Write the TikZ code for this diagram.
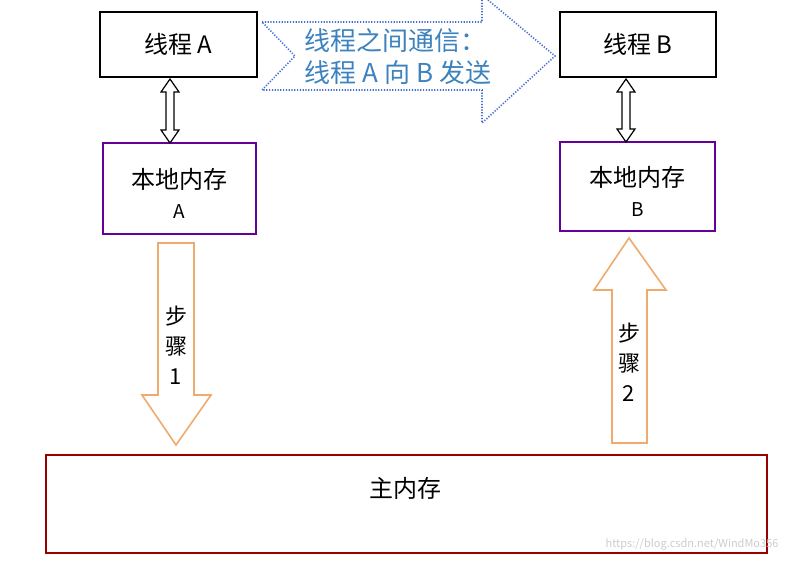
\documentclass[tikz,border=0pt]{standalone}
\usepackage{fontspec}
\setmainfont{Noto Sans CJK SC}
\definecolor{peach}{RGB}{240,170,110}
\definecolor{commblue}{RGB}{60,130,190}
\definecolor{dotblue}{RGB}{70,110,210}
\begin{document}
\begin{tikzpicture}[x=1pt,y=-1pt,
  box/.style={draw,line width=1.8pt,minimum height=0,inner sep=0},
  txt/.style={font=\fontsize{24}{28}\selectfont},
  dbl/.style={draw,line width=1.2pt,fill=white},
  oarr/.style={draw=peach,line width=1.6pt,fill=white}]
\useasboundingbox (0,0) rectangle (787,566);
% boxes
\node[box,draw=black,minimum width=157pt,minimum height=65pt] (ta) at (178.5,44.5) {};
\node[txt] (tat) at (ta.center) {线程 A};
\node[box,draw=black,minimum width=156pt,minimum height=65pt] (tb) at (638,44.5) {};
\node[txt] (tbt) at (tb.center) {线程 B};
\node[box,draw=violet!80!blue,minimum width=153pt,minimum height=91pt] (la) at (179.5,188.5) {};
\node[txt,align=center] (lat) at (179.5,193) {本地内存\\[2pt]\fontsize{19}{20}\selectfont A};
\node[box,draw=violet!80!blue,minimum width=155pt,minimum height=89pt] (lb) at (637.5,186.5) {};
\node[txt,align=center] (lbt) at (637.5,191) {本地内存\\[2pt]\fontsize{19}{20}\selectfont B};
\node[box,draw=red!60!black,minimum width=721pt,minimum height=98pt] (mm) at (406.5,504) {};
\node[txt] (mmt) at (405,488) {主内存};
% dotted notched arrow
\draw[dotblue,line width=1.6pt,dash pattern=on 1.2pt off 1.6pt]
  (262,22) -- (482,22) -- (482,-5) -- (555,56) -- (482,123) -- (482,90) -- (262,90) -- (295,56) -- cycle;
\node[text=commblue,align=left,font=\fontsize{26}{32}\selectfont] (comm) at (398,57) {线程之间通信：\\线程 A 向 B 发送};
% double arrows
\foreach \cx/\ya/\yb in {170/79/143, 626/79/142}{
  \draw[dbl] (\cx,\ya) -- (\cx+9,\ya+13) -- (\cx+4,\ya+13) -- (\cx+4,\yb-13) -- (\cx+9,\yb-13)
   -- (\cx,\yb) -- (\cx-9,\yb-13) -- (\cx-4,\yb-13) -- (\cx-4,\ya+13) -- (\cx-9,\ya+13) -- cycle;
}
% step arrows
\draw[oarr] (158,243) -- (194,243) -- (194,395) -- (211,395) -- (176,445) -- (142,395) -- (158,395) -- cycle;
\node[align=center,font=\fontsize{22}{30}\selectfont] (s1) at (176,345) {步\\骤\\1};
\draw[oarr] (612,443) -- (647,443) -- (647,290) -- (666,290) -- (629,238) -- (594,290) -- (612,290) -- cycle;
\node[align=center,font=\fontsize{22}{30}\selectfont] (s2) at (629,362) {步\\骤\\2};
\node[text=gray!40,font=\fontsize{11}{12}\selectfont,anchor=east] (wm) at (782,544) {https://blog.csdn.net/WindMo356};
\end{tikzpicture}
\end{document}
